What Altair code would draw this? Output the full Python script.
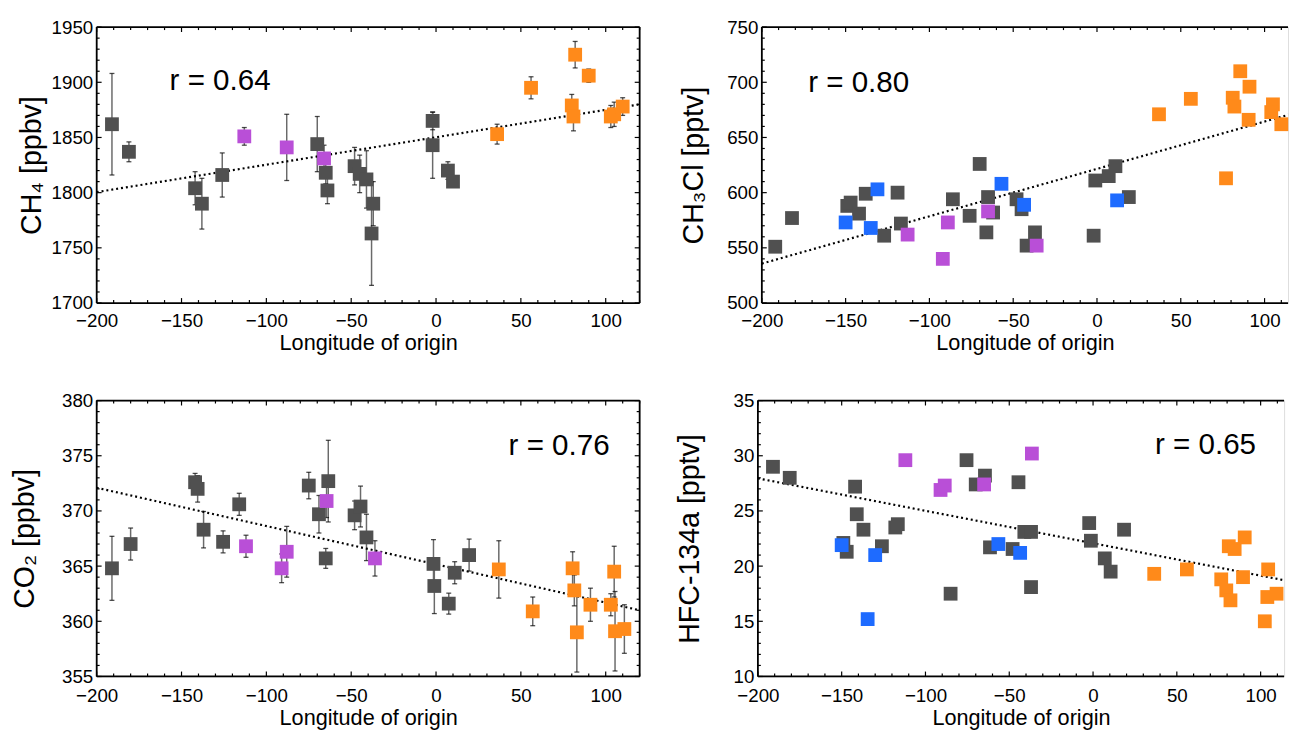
import altair as alt
import pandas as pd

FONT = "Liberation Sans"
GROUPS = ["gray", "blue", "purple", "orange"]
COLORS = ["#505050", "#1E6BFF", "#B94FD7", "#FF8A1A"]

# ---------------- CH4 ----------------
ch4_lon = [-191, -181, -142, -138, -126, -70, -65, -64, -48, -45, -41, -37, -38, -2, -2, 7, 10,
           -113, -88, -66,
           36, 56, 82, 90, 80, 81, 103, 105, 110]
ch4_val = [1862, 1837, 1804, 1790, 1816, 1844, 1818, 1802, 1824, 1817, 1812, 1790, 1763, 1865, 1843, 1820, 1810,
           1851, 1841, 1831,
           1853, 1895, 1925, 1906, 1879, 1869, 1869, 1871, 1878]
ch4_err = [46, 9, 15, 23, 20, 25, 10, 12, 17, 17, 26, 20, 47, 8, 30, 8, 3,
           8, 30, 12,
           9, 10, 12, 6, 10, 13, 10, 11, 8]
ch4_grp = ["gray"] * 17 + ["purple"] * 3 + ["orange"] * 9
ch4_fit_x = [-200, 120]
ch4_fit_y = [1800.5, 1880]

# ---------------- CH3Cl ----------------
ch3cl_lon = [-192, -182, -149, -147, -142, -138, -127, -119, -117, -86, -76, -70, -65, -62, -66, -48, -45,
             -37, -42, -2, -1, 7, 11, 19,
             -150, -131, -135, -57, -43.5, 12,
             -113, -89, -92, -65, -36,
             37, 56, 77, 81, 82, 85.5, 91, 90.5, 105, 104, 110]
ch3cl_val = [551, 577, 588, 591, 581, 599, 561, 600, 572, 594, 579, 626, 596, 582, 564, 594, 585,
             564, 552, 561, 611, 615, 624, 596,
             573, 603, 568, 608, 589, 593,
             562, 573, 540, 583, 552,
             671, 685, 613, 686, 678, 710, 696, 666, 680, 673, 662]
ch3cl_grp = ["gray"] * 24 + ["blue"] * 6 + ["purple"] * 5 + ["orange"] * 11
ch3cl_fit_x = [-200, 120]
ch3cl_fit_y = [535.7, 673]

# ---------------- CO2 ----------------
co2_lon = [-191, -180, -142, -140.5, -137, -125.5, -116, -75, -69, -65, -63.5, -48, -44.5, -41,
           -1.5, -1, 11, 7.5, 19.5,
           -112, -91, -88, -64.5, -36,
           37, 57, 80.5, 81.5, 83, 91, 103, 105, 105.5, 111]
co2_val = [364.8, 367.0, 372.6, 372.0, 368.3, 367.2, 370.6, 372.3, 369.7, 365.7, 372.7, 369.6, 370.4, 367.6,
           365.2, 363.2, 364.4, 361.6, 366.0,
           366.8, 364.8, 366.3, 370.9, 365.7,
           364.7, 360.9, 364.8, 362.8, 359.0, 361.5, 361.5, 364.5, 359.1, 359.3]
co2_err = [2.9, 1.45, 0.8, 1.2, 1.65, 1.0, 1.0, 1.2, 1.7, 0.9, 3.7, 1.3, 1.85, 2.1,
           2.2, 2.5, 1.0, 0.95, 1.45,
           1.0, 1.3, 2.3, 1.5, 1.6,
           2.6, 1.3, 1.5, 1.4, 3.6, 1.5, 1.0, 2.3, 3.6, 2.2]
co2_grp = ["gray"] * 19 + ["purple"] * 5 + ["orange"] * 10
co2_fit_x = [-200, 120]
co2_fit_y = [372.1, 361.0]

# ---------------- HFC-134a ----------------
hfc_lon = [-191, -181, -142, -141, -137, -149, -147, -126, -118, -116.5, -85, -75.5, -70, -64.5,
           -44.5, -61.5, -48, -41, -37, -37, -2.3, -1.3, 7, 10.5, 18.5,
           -150, -130, -134.5, -56.5, -43.5,
           -112, -91, -88.5, -65, -36.5,
           36.5, 56, 76.5, 79.5, 82, 81, 84.5, 90.5, 89.5, 104.5, 104, 109.5, 102.5]
hfc_val = [29.0, 28.0, 27.2, 24.7, 23.3, 22.1, 21.3, 21.8, 23.5, 23.8, 17.5, 29.6, 27.4, 28.2,
           27.6, 21.7, 21.55, 23.1, 23.1, 18.1, 23.9, 22.3, 20.7, 19.5, 23.3,
           21.9, 21.0, 15.2, 22.0, 21.2,
           29.6, 26.9, 27.3, 27.4, 30.2,
           19.3, 19.7, 18.8, 17.8, 16.9, 21.8, 21.55, 22.6, 19.0, 19.7, 17.2, 17.5, 15.0]
hfc_grp = ["gray"] * 25 + ["blue"] * 5 + ["purple"] * 5 + ["orange"] * 13
hfc_fit_x = [-200, 120]
hfc_fit_y = [27.95, 18.55]

X_MAJOR = list(range(-200, 101, 50))


def panel(lon, val, err, grp, fit_x, fit_y, ydom, ystep, yminor, ytitle, rtext, rx, ry, tpad,
          xmax, W, H, right_side, xlabpad, xtitlepad):
    xs = alt.Scale(domain=[-200, xmax], nice=False, zero=False)
    ys = alt.Scale(domain=ydom, nice=False, zero=False)
    xaxis = alt.Axis(values=X_MAJOR, labelFlush=False, ticks=False, tickSize=0, domain=False, grid=False,
                     labelFontSize=19, labelPadding=xlabpad, titleFontSize=22, titleFontWeight="normal",
                     titlePadding=xtitlepad, labelColor="black", titleColor="black", labelFont=FONT,
                     titleFont=FONT, format="d", labelOverlap=False)
    ymaj = list(range(int(ydom[0]), int(ydom[1]) + 1, ystep))
    ymin = [v for v in range(int(ydom[0]), int(ydom[1]) + 1, yminor) if v % ystep != 0]
    xmin = [v for v in range(-200, int(xmax) + 1, 10) if v % 50 != 0]
    yaxis = alt.Axis(values=ymaj, ticks=False, tickSize=0, domain=False, grid=False,
                     labelFontSize=19, labelPadding=4, titleFontSize=29, titleFontWeight="normal",
                     titlePadding=tpad, labelColor="black", titleColor="black", labelFont=FONT, titleFont=FONT,
                     format="d", labelOverlap=False)

    def X(f):
        return alt.X(f, type="quantitative", scale=xs, axis=xaxis, title="Longitude of origin")

    def Y(f):
        return alt.Y(f, type="quantitative", scale=ys, axis=yaxis, title=ytitle)

    layers = []
    one = pd.DataFrame({"k": [0]})
    fr = alt.Chart(one).mark_rule(color="black", strokeWidth=1.8)
    layers.append(fr.encode(x=alt.value(0), x2=alt.value(W), y=alt.value(0)))
    layers.append(fr.encode(x=alt.value(0), x2=alt.value(W), y=alt.value(H)))
    layers.append(fr.encode(x=alt.value(0), y=alt.value(0), y2=alt.value(H)))
    if right_side:
        layers.append(fr.encode(x=alt.value(W), y=alt.value(0), y2=alt.value(H)))
    for vals, L in ((X_MAJOR, 5), (xmin, 3)):
        d = pd.DataFrame({"lon": vals})
        b = alt.Chart(d).mark_rule(color="black", strokeWidth=1.2)
        layers.append(b.encode(x=X("lon"), y=alt.value(H), y2=alt.value(H - L)))
        layers.append(b.encode(x=X("lon"), y=alt.value(0), y2=alt.value(L)))
    for vals, L in ((ymaj, 5), (ymin, 3)):
        d = pd.DataFrame({"val": vals})
        b = alt.Chart(d).mark_rule(color="black", strokeWidth=1.2)
        layers.append(b.encode(y=Y("val"), x=alt.value(0), x2=alt.value(L)))
        if right_side:
            layers.append(b.encode(y=Y("val"), x=alt.value(W), x2=alt.value(W - L)))

    df = pd.DataFrame({"lon": lon, "val": val, "grp": grp})
    if err is not None:
        df["lo"] = [v - e for v, e in zip(val, err)]
        df["hi"] = [v + e for v, e in zip(val, err)]
        eb = alt.Chart(df)
        layers.append(eb.mark_rule(color="#6a6a6a", strokeWidth=1.5).encode(
            x=X("lon"), y=Y("lo"), y2="hi"))
        layers.append(eb.mark_tick(orient="horizontal", size=5, thickness=1.3, color="black").encode(
            x=X("lon"), y=Y("lo")))
        layers.append(eb.mark_tick(orient="horizontal", size=5, thickness=1.3, color="black").encode(
            x=X("lon"), y=Y("hi")))

    fit = pd.DataFrame({"lon": fit_x, "val": fit_y})
    layers.append(alt.Chart(fit).mark_line(color="black", strokeWidth=2.2, strokeDash=[2, 3], clip=True).encode(
        x=X("lon"), y=Y("val")))

    layers.append(alt.Chart(df).mark_point(shape="square", filled=True, size=196, opacity=1).encode(
        x=X("lon"), y=Y("val"),
        color=alt.Color("grp:N", scale=alt.Scale(domain=GROUPS, range=COLORS), legend=None)))

    tdf = pd.DataFrame({"t": [rtext]})
    layers.append(alt.Chart(tdf).mark_text(align="left", baseline="alphabetic", fontSize=30, font=FONT,
                                           color="black").encode(
        x=alt.value(rx), y=alt.value(ry), text="t:N"))

    return alt.layer(*layers).properties(width=W, height=H)


p1 = panel(ch4_lon, ch4_val, ch4_err, ch4_grp, ch4_fit_x, ch4_fit_y, [1700, 1950], 50, 10,
           "CH₄ [ppbv]", "r = 0.64", 74, 64, 5, 120, 551, 280, True, 9, 2)
p2 = panel(ch3cl_lon, ch3cl_val, None, ch3cl_grp, ch3cl_fit_x, ch3cl_fit_y, [500, 750], 50, 10,
           "CH₃Cl [pptv]", "r = 0.80", 47, 66, 19, 114, 534, 280, False, 9, 2)
p3 = panel(co2_lon, co2_val, co2_err, co2_grp, co2_fit_x, co2_fit_y, [355, 380], 5, 1,
           "CO₂ [ppbv]", "r = 0.76", 418, 55, 22, 120, 551, 280, True, 10, 3)
p4 = panel(hfc_lon, hfc_val, None, hfc_grp, hfc_fit_x, hfc_fit_y, [10, 35], 5, 1,
           "HFC-134a [pptv]", "r = 0.65", 403, 54, 29, 114, 534, 280, False, 10, 3)

row1 = alt.hconcat(p1, p2, spacing=37)
row2 = alt.hconcat(p3, p4, spacing=34)

chart = alt.vconcat(row1, row2, spacing=37).properties(
    padding={"left": 2, "top": 4, "right": 0, "bottom": 0}
).configure_view(stroke="transparent", strokeWidth=0).configure(background="white")

chart.save("out.html", embed_options={"renderer": "svg", "actions": False})
